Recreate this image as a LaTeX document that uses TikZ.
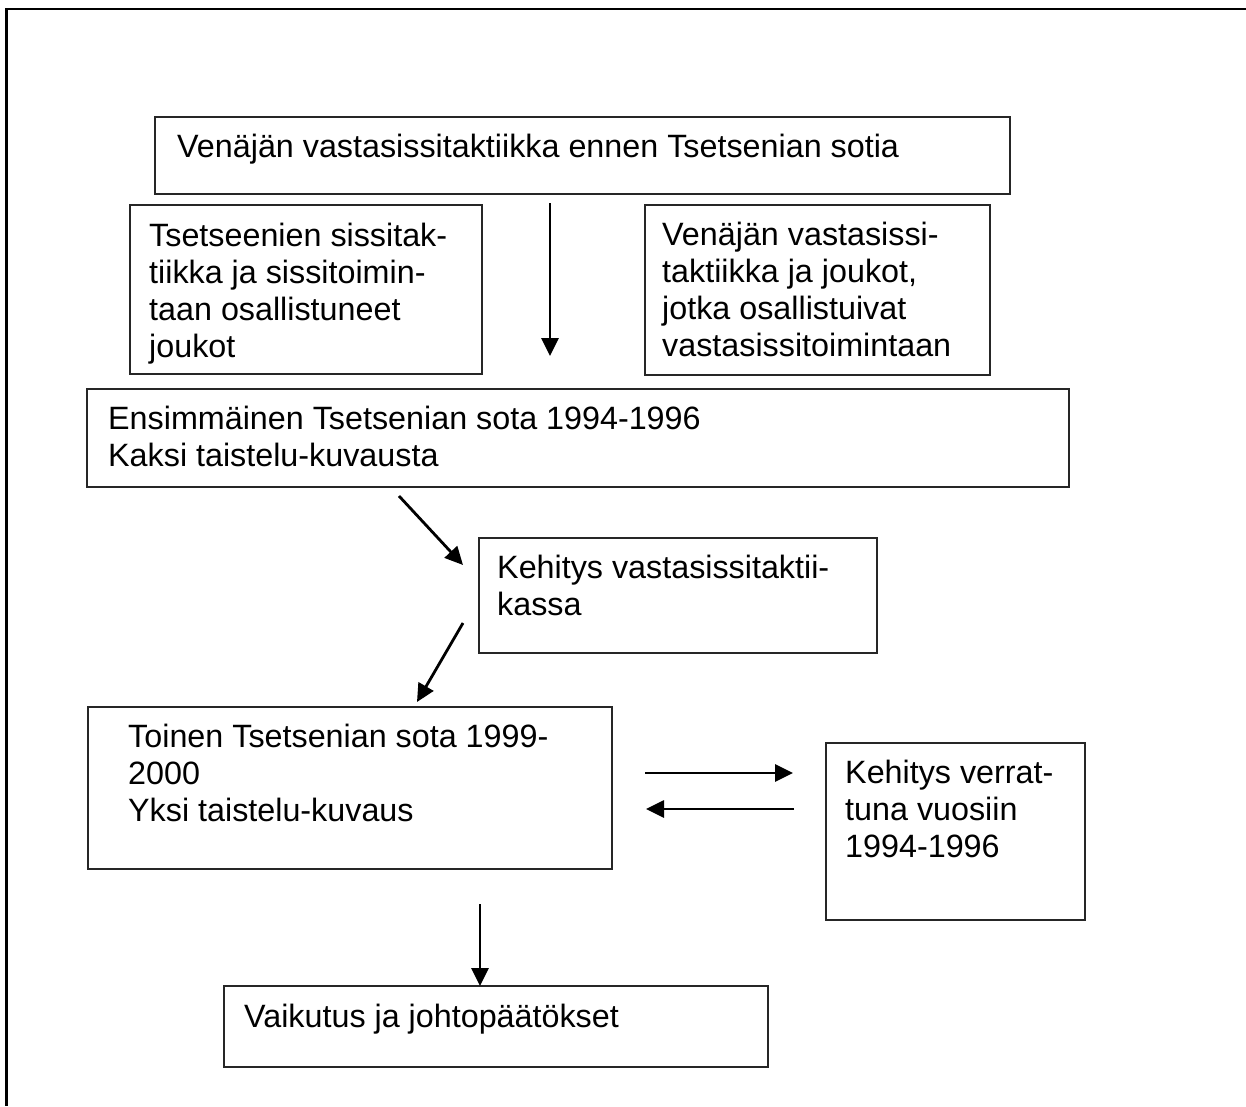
\documentclass[tikz,border=0pt]{standalone}
\usepackage{fontspec}
\setmainfont{Liberation Sans}
\usetikzlibrary{arrows.meta}
\begin{document}
\begin{tikzpicture}[x=1pt,y=-1pt,
  boxstyle/.style={draw=black!85,line width=1.5pt,inner sep=0pt,anchor=north west},
  txt/.style={anchor=base west,align=left,inner sep=0pt,font=\fontsize{32.3}{37}\selectfont},
  arr/.style={line width=2.8pt,-{Triangle[length=18pt,width=17pt]}},
  frame/.style={line width=2.8pt}]
\useasboundingbox (0,0) rectangle (1246,1106);
% outer frame (top and left only visible)
\coordinate (fTR) at (1246,9);
\coordinate (fTL) at (6.5,9);
\coordinate (fBL) at (6.5,1106);
\draw[frame] (fTR) -- (fTL) -- (fBL);
% boxes
\node[boxstyle,minimum width=855pt,minimum height=77pt] (b1) at (154,116) {};
\node[boxstyle,minimum width=352pt,minimum height=169pt] (b2) at (129,204) {};
\node[boxstyle,minimum width=345pt,minimum height=170pt] (b3) at (644,204) {};
\node[boxstyle,minimum width=982pt,minimum height=98pt] (b4) at (86,388) {};
\node[boxstyle,minimum width=398pt,minimum height=115pt] (b5) at (478,537) {};
\node[boxstyle,minimum width=524pt,minimum height=162pt] (b6) at (87,706) {};
\node[boxstyle,minimum width=259pt,minimum height=177pt] (b7) at (825,742) {};
\node[boxstyle,minimum width=544pt,minimum height=81pt] (b8) at (223,985) {};
% texts (anchor = baseline of the last line)
\node[txt] (t1) at (177,157) {Venäjän vastasissitaktiikka ennen Tsetsenian sotia};
\node[txt] (t2) at (149,357) {Tsetseenien sissitak-\\tiikka ja sissitoimin-\\taan osallistuneet\\joukot};
\node[txt] (t3) at (662,356) {Venäjän vastasissi-\\taktiikka ja joukot,\\jotka osallistuivat\\vastasissitoimintaan};
\node[txt] (t4) at (108,466) {Ensimmäinen Tsetsenian sota 1994-1996\\Kaksi taistelu-kuvausta};
\node[txt] (t5) at (497,615) {Kehitys vastasissitaktii-\\kassa};
\node[txt] (t6) at (128,821) {Toinen Tsetsenian sota 1999-\\2000\\Yksi taistelu-kuvaus};
\node[txt] (t7) at (845,857) {Kehitys verrat-\\tuna vuosiin\\1994-1996};
\node[txt] (t8) at (244,1027) {Vaikutus ja johtopäätökset};
% arrow endpoints
\coordinate (a1s) at (550,203); \coordinate (a1e) at (550,356);
\coordinate (a2s) at (399,496); \coordinate (a2e) at (463,565);
\coordinate (a3s) at (463,623); \coordinate (a3e) at (417,702);
\coordinate (a4s) at (645,773); \coordinate (a4e) at (793,773);
\coordinate (a5s) at (794,809); \coordinate (a5e) at (646,809);
\coordinate (a6s) at (480,904); \coordinate (a6e) at (480,986);
\draw[arr] (a1s) -- (a1e);
\draw[arr] (a2s) -- (a2e);
\draw[arr] (a3s) -- (a3e);
\draw[arr] (a4s) -- (a4e);
\draw[arr] (a5s) -- (a5e);
\draw[arr] (a6s) -- (a6e);
\end{tikzpicture}
\end{document}
